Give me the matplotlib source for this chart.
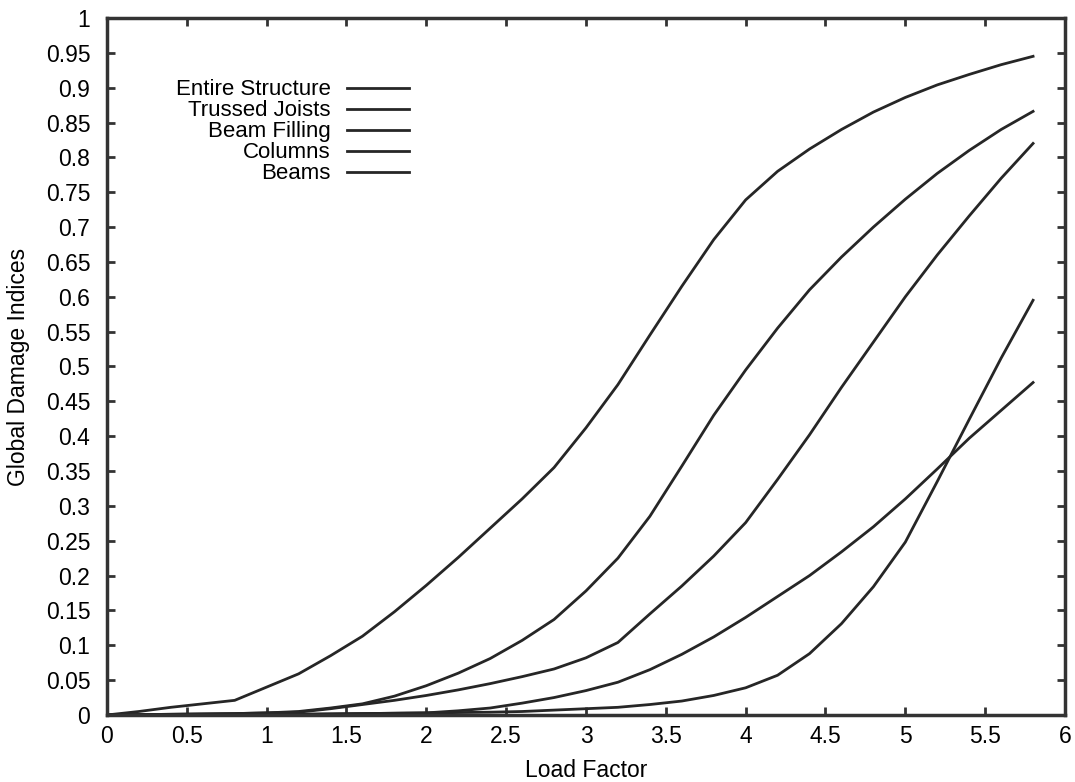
import numpy as np
import matplotlib
matplotlib.use("Agg")
import matplotlib.pyplot as plt

plt.rcParams["font.family"] = ["Liberation Sans", "DejaVu Sans"]

# Load factor steps (same for every curve)
load = np.round(np.arange(0, 5.81, 0.2), 1)

entire = [0.0, 0.005, 0.011, 0.016, 0.021, 0.04, 0.059, 0.085, 0.113, 0.148,
          0.186, 0.226, 0.268, 0.31, 0.355, 0.412, 0.474, 0.545, 0.615, 0.682,
          0.739, 0.78, 0.812, 0.84, 0.865, 0.886, 0.904, 0.919, 0.933, 0.945]
trussed = [0.0, 0.0005, 0.001, 0.0015, 0.002, 0.003, 0.005, 0.01, 0.016, 0.027,
           0.042, 0.06, 0.081, 0.107, 0.137, 0.178, 0.225, 0.285, 0.357, 0.43,
           0.495, 0.555, 0.61, 0.657, 0.70, 0.74, 0.777, 0.81, 0.84, 0.866]
filling = [0.0, 0.0005, 0.001, 0.0015, 0.002, 0.003, 0.004, 0.009, 0.015, 0.021,
           0.028, 0.036, 0.045, 0.055, 0.066, 0.082, 0.104, 0.145, 0.185, 0.228,
           0.276, 0.338, 0.402, 0.47, 0.535, 0.60, 0.66, 0.716, 0.77, 0.82]
columns = [0.0, 0.0, 0.0, 0.0005, 0.0005, 0.001, 0.001, 0.0015, 0.002, 0.0025,
           0.003, 0.006, 0.01, 0.017, 0.025, 0.035, 0.047, 0.065, 0.087, 0.112,
           0.14, 0.17, 0.2, 0.234, 0.27, 0.31, 0.353, 0.397, 0.437, 0.477]
beams = [0.0, 0.0, 0.0, 0.0005, 0.0005, 0.001, 0.001, 0.0015, 0.002, 0.0025,
         0.003, 0.0035, 0.004, 0.005, 0.007, 0.009, 0.011, 0.015, 0.02, 0.028,
         0.039, 0.057, 0.088, 0.131, 0.184, 0.248, 0.335, 0.424, 0.512, 0.595]

series = [("Entire Structure", entire), ("Trussed Joists", trussed),
          ("Beam Filling", filling), ("Columns", columns), ("Beams", beams)]

fig = plt.figure(figsize=(10.75, 7.82), dpi=100)
ax = fig.add_axes([0.0995, 0.0857, 0.8912, 0.8913])

for label, vals in series:
    ax.plot(load, vals, color="#262626", lw=2.0, label=label)

ax.set_xlim(0, 6)
ax.set_ylim(0, 1)
ax.set_xticks(np.arange(0, 6.01, 0.5))
ax.set_yticks(np.arange(0, 1.001, 0.05))
ax.set_xticklabels([f"{v:g}" for v in np.arange(0, 6.01, 0.5)])
ax.set_yticklabels([f"{v:g}" for v in np.round(np.arange(0, 1.001, 0.05), 2)])
ax.tick_params(direction="in", length=6, width=2, top=True, right=True,
               labelsize=16.5, color="#333333")
ax.tick_params(axis="x", pad=7)
ax.tick_params(axis="y", pad=12)
for s in ax.spines.values():
    s.set_linewidth(2.5)
    s.set_color("#333333")

ax.set_xlabel("Load Factor", fontsize=16.5, labelpad=8)
ax.set_ylabel("Global Damage Indices", fontsize=16.5, labelpad=11)

ax.legend(loc="upper right", bbox_to_anchor=(0.315, 0.912), frameon=False,
          markerfirst=False, fontsize=16, handlelength=2.8,
          handletextpad=0.7, labelspacing=0.0, borderpad=0, borderaxespad=0)

fig.savefig("out.png", dpi=100)
